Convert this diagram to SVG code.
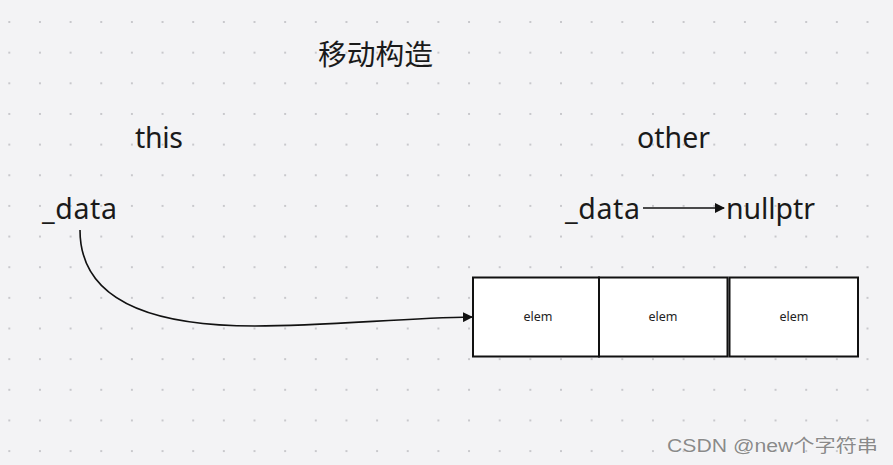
<svg xmlns="http://www.w3.org/2000/svg" width="893" height="465" viewBox="0 0 893 465">
<style>
.t{font-family:"Noto Sans","Noto Sans CJK SC",sans-serif;fill:#1a1a1a;font-size:28.5px}
.e{font-family:"Noto Sans",sans-serif;fill:#222;font-size:12.5px;text-anchor:middle}
.box{fill:#fff;stroke:#111;stroke-width:2}
.c{fill:none;stroke:#111;stroke-width:1.6}
.wm{font-family:"Liberation Sans","Noto Sans CJK SC",sans-serif;font-size:18px;fill:#8a8a8a;stroke:#fff;stroke-width:0.6;paint-order:stroke}
</style>
<defs>
<pattern id="dots" x="9.3" y="22" width="30.65" height="30.65" patternUnits="userSpaceOnUse">
<rect x="-1" y="-1" width="2" height="2" fill="#c8c8cc"/>
<rect x="29.65" y="-1" width="2" height="2" fill="#c8c8cc"/>
<rect x="-1" y="29.65" width="2" height="2" fill="#c8c8cc"/>
<rect x="29.65" y="29.65" width="2" height="2" fill="#c8c8cc"/>
</pattern>
<marker id="arr" markerWidth="10" markerHeight="10" refX="9" refY="5" orient="auto" markerUnits="userSpaceOnUse">
<path d="M0,0 L10,5 L0,10 z" fill="#111"/>
</marker>
</defs>
<rect width="893" height="465" fill="#f3f3f5"/>
<rect width="893" height="465" fill="url(#dots)"/>
<g id="title"><text class="t" x="318" y="65" textLength="115" lengthAdjust="spacingAndGlyphs">移动构造</text></g>
<g id="this"><text class="t" x="135" y="148" textLength="48">this</text></g>
<g id="other"><text class="t" x="637" y="148" textLength="73">other</text></g>
<g id="this_data"><text class="t" x="42" y="219" textLength="75">_data</text></g>
<g id="other_data"><text class="t" x="565" y="219" textLength="75">_data</text></g>
<g id="nullptr"><text class="t" x="726" y="219" textLength="89">nullptr</text></g>
<g id="elem1"><rect class="box" x="473" y="277.5" width="126" height="79"/><text class="e" x="538" y="321">elem</text></g>
<g id="elem2"><rect class="box" x="599" y="277.5" width="128.5" height="79"/><text class="e" x="663" y="321">elem</text></g>
<g id="elem3"><rect class="box" x="729.5" y="277.5" width="128.5" height="79"/><text class="e" x="794" y="321">elem</text></g>
<g id="connectors">
<path class="c" d="M643,208 L724,208" marker-end="url(#arr)"/>
<path class="c" d="M80,230 C80,300 150,326 255,326 C330,326 400,318 472,317" marker-end="url(#arr)"/>
</g>
<text class="wm" x="667" y="452" textLength="211" lengthAdjust="spacingAndGlyphs">CSDN @new个字符串</text>
</svg>
